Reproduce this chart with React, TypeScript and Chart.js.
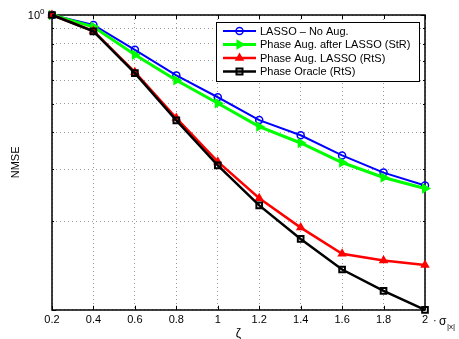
import React, { useEffect, useRef } from 'react';
import { Chart, registerables } from 'chart.js';

Chart.register(...registerables);

const xValues = [0.2, 0.4, 0.6, 0.8, 1.0, 1.2, 1.4, 1.6, 1.8, 2.0];
const lassoNoAug = [1.0, 0.925, 0.762, 0.624, 0.526, 0.44, 0.391, 0.334, 0.292, 0.264];
const phaseAugAfterLasso = [1.0, 0.912, 0.733, 0.601, 0.502, 0.418, 0.368, 0.316, 0.281, 0.258];
const phaseAugLasso = [1.0, 0.882, 0.64, 0.447, 0.318, 0.239, 0.19, 0.155, 0.147, 0.142];
const phaseOracle = [1.0, 0.88, 0.635, 0.439, 0.309, 0.226, 0.174, 0.137, 0.116, 0.1];
const yGridValues = [0.1, 0.2, 0.3, 0.4, 0.5, 0.6, 0.7, 0.8, 0.9, 1.0];
const seriesLabels = [
  'LASSO \u2013 No Aug.',
  'Phase Aug. after LASSO (StR)',
  'Phase Aug. LASSO (RtS)',
  'Phase Oracle (RtS)',
];
const seriesColors = ['#0000ff', '#00ff00', '#ff0000', '#000000'];

const FONT = '"Liberation Sans", Arial, Helvetica, sans-serif';

function drawMarker(ctx: CanvasRenderingContext2D, kind: number, x: number, y: number) {
  ctx.save();
  if (kind === 0) {
    ctx.strokeStyle = seriesColors[0];
    ctx.lineWidth = 1.5;
    ctx.beginPath();
    ctx.arc(x, y, 3.5, 0, Math.PI * 2);
    ctx.stroke();
  } else if (kind === 1) {
    ctx.fillStyle = seriesColors[1];
    const r = 6;
    ctx.beginPath();
    ctx.moveTo(x + r, y);
    ctx.lineTo(x - r * 0.5, y - r * 0.866);
    ctx.lineTo(x - r * 0.5, y + r * 0.866);
    ctx.closePath();
    ctx.fill();
  } else if (kind === 2) {
    ctx.fillStyle = seriesColors[2];
    const r = 5.5;
    ctx.beginPath();
    ctx.moveTo(x, y - r);
    ctx.lineTo(x + r * 0.866, y + r * 0.5);
    ctx.lineTo(x - r * 0.866, y + r * 0.5);
    ctx.closePath();
    ctx.fill();
  } else {
    ctx.strokeStyle = '#000';
    ctx.lineWidth = 2;
    ctx.strokeRect(x - 3, y - 3, 6, 6);
  }
  ctx.restore();
}

const decorPlugin = {
  id: 'decor',
  beforeDatasetsDraw(chart: any) {
    const { ctx, chartArea: a } = chart;
    const xs = chart.scales.x;
    const ys = chart.scales.y;
    ctx.save();
    ctx.strokeStyle = '#000';
    ctx.lineWidth = 1;
    ctx.beginPath();
    for (const v of xValues) {
      const px = Math.round(xs.getPixelForValue(v)) + 0.5;
      ctx.moveTo(px, a.bottom);
      ctx.lineTo(px, a.bottom - 4);
      ctx.moveTo(px, a.top);
      ctx.lineTo(px, a.top + 4);
    }
    for (const v of yGridValues) {
      const py = Math.round(ys.getPixelForValue(v)) + 0.5;
      const len = v === 0.1 || v === 1 ? 4 : 2;
      ctx.moveTo(a.left, py);
      ctx.lineTo(a.left + len, py);
      ctx.moveTo(a.right, py);
      ctx.lineTo(a.right - len, py);
    }
    ctx.stroke();
    ctx.lineWidth = 1.5;
    ctx.strokeRect(Math.round(a.left), Math.round(a.top), Math.round(a.right - a.left), Math.round(a.bottom - a.top));
    ctx.restore();
  },
  afterDraw(chart: any) {
    const { ctx, chartArea: a } = chart;
    const xs = chart.scales.x;
    const ys = chart.scales.y;
    ctx.save();
    ctx.fillStyle = '#000';
    // y-axis decade label 10^0
    const y1 = ys.getPixelForValue(1);
    ctx.font = `11px ${FONT}`;
    ctx.textAlign = 'right';
    ctx.textBaseline = 'middle';
    ctx.fillText('10', a.left - 12, y1 + 1);
    ctx.font = `8px ${FONT}`;
    ctx.textAlign = 'left';
    ctx.fillText('0', a.left - 12, y1 - 3);
    // y title
    ctx.save();
    ctx.translate(16, (a.top + a.bottom) / 2);
    ctx.rotate(-Math.PI / 2);
    ctx.font = `11px ${FONT}`;
    ctx.textAlign = 'center';
    ctx.textBaseline = 'middle';
    ctx.fillText('NMSE', 0, 0);
    ctx.restore();
    // x title
    ctx.font = `12px ${FONT}`;
    ctx.textAlign = 'center';
    ctx.textBaseline = 'middle';
    ctx.fillText('\u03b6', (a.left + a.right) / 2, a.bottom + 24);
    // unit after last tick
    const x2 = xs.getPixelForValue(2);
    const ty = a.bottom + 11;
    ctx.font = `11px ${FONT}`;
    ctx.textAlign = 'left';
    ctx.textBaseline = 'middle';
    ctx.fillText('\u00b7', x2 + 8, ty);
    ctx.font = `12px ${FONT}`;
    ctx.fillText('\u03c3', x2 + 14, ty + 1);
    ctx.font = `8px ${FONT}`;
    ctx.fillText('|x|', x2 + 22, ty + 6);
    // legend
    const lx = 216, ly = 22, lw = 203, lh = 59;
    ctx.fillStyle = '#fff';
    ctx.fillRect(lx, ly, lw, lh);
    ctx.strokeStyle = '#000';
    ctx.lineWidth = 1;
    ctx.strokeRect(lx + 0.5, ly + 0.5, lw, lh);
    const rows = [31, 44.5, 58, 71.5];
    const widths = [2, 3, 2.5, 2.5];
    seriesLabels.forEach((lab, i) => {
      const ry = rows[i];
      ctx.strokeStyle = seriesColors[i];
      ctx.lineWidth = widths[i];
      ctx.beginPath();
      ctx.moveTo(223, ry);
      ctx.lineTo(256, ry);
      ctx.stroke();
      drawMarker(ctx, i, 239.5, ry);
      ctx.fillStyle = '#000';
      ctx.font = `11px ${FONT}`;
      ctx.textAlign = 'left';
      ctx.textBaseline = 'middle';
      ctx.fillText(lab, 260, ry + 0.5);
    });
    ctx.restore();
  },
};

export default function App() {
  const ref = useRef<HTMLCanvasElement | null>(null);
  useEffect(() => {
    const canvas = ref.current;
    if (!canvas) return;
    const mk = (vals: number[]) => vals.map((v, i) => ({ x: xValues[i], y: v }));
    const chart = new Chart(canvas, {
      type: 'line',
      data: {
        datasets: [
          {
            label: seriesLabels[0],
            data: mk(lassoNoAug),
            borderColor: seriesColors[0],
            borderWidth: 2,
            pointStyle: 'circle',
            pointRadius: 3.5,
            pointBorderWidth: 1.5,
            pointBorderColor: seriesColors[0],
            pointBackgroundColor: 'rgba(0,0,0,0)',
            order: 3,
            clip: false,
          },
          {
            label: seriesLabels[1],
            data: mk(phaseAugAfterLasso),
            borderColor: seriesColors[1],
            borderWidth: 3,
            pointStyle: 'triangle',
            rotation: 90,
            pointRadius: 6,
            pointBorderWidth: 0,
            pointBorderColor: seriesColors[1],
            pointBackgroundColor: seriesColors[1],
            order: 2,
            clip: false,
          },
          {
            label: seriesLabels[2],
            data: mk(phaseAugLasso),
            borderColor: seriesColors[2],
            borderWidth: 2.5,
            pointStyle: 'triangle',
            pointRadius: 5.5,
            pointBorderWidth: 0,
            pointBorderColor: seriesColors[2],
            pointBackgroundColor: seriesColors[2],
            order: 1,
            clip: false,
          },
          {
            label: seriesLabels[3],
            data: mk(phaseOracle),
            borderColor: seriesColors[3],
            borderWidth: 2.5,
            pointStyle: 'rect',
            pointRadius: 4,
            pointBorderWidth: 2,
            pointBorderColor: seriesColors[3],
            pointBackgroundColor: 'rgba(0,0,0,0)',
            order: 0,
            clip: false,
          },
        ] as any,
      },
      options: {
        animation: false,
        responsive: false,
        maintainAspectRatio: false,
        layout: { padding: { left: 52, top: 15, right: 34, bottom: 8 } },
        plugins: { legend: { display: false }, tooltip: { enabled: false } },
        scales: {
          x: {
            type: 'linear',
            min: 0.2,
            max: 2,
            ticks: {
              stepSize: 0.2,
              padding: 4,
              color: '#000',
              font: { family: FONT, size: 11 },
              maxRotation: 0,
              autoSkip: false,
              callback: (v: any) => String(Number(Number(v).toFixed(1))),
            },
            afterBuildTicks: (s: any) => {
              s.ticks = xValues.map((v) => ({ value: v }));
            },
            grid: { color: '#9a9a9a', lineWidth: 1, drawTicks: false },
            border: { display: false, dash: [1, 3] },
          },
          y: {
            type: 'logarithmic',
            min: 0.1,
            max: 1,
            ticks: { display: false },
            afterBuildTicks: (s: any) => {
              s.ticks = yGridValues.map((v) => ({ value: v }));
            },
            grid: { color: '#9a9a9a', lineWidth: 1, drawTicks: false },
            border: { display: false, dash: [1, 3] },
          },
        },
      } as any,
      plugins: [decorPlugin],
    });
    return () => chart.destroy();
  }, []);
  return (
    <div style={{ position: 'fixed', left: 0, top: 0, width: 459, height: 339, background: '#fff' }}>
      <canvas ref={ref} width={459} height={339} style={{ width: 459, height: 339 }} />
    </div>
  );
}
